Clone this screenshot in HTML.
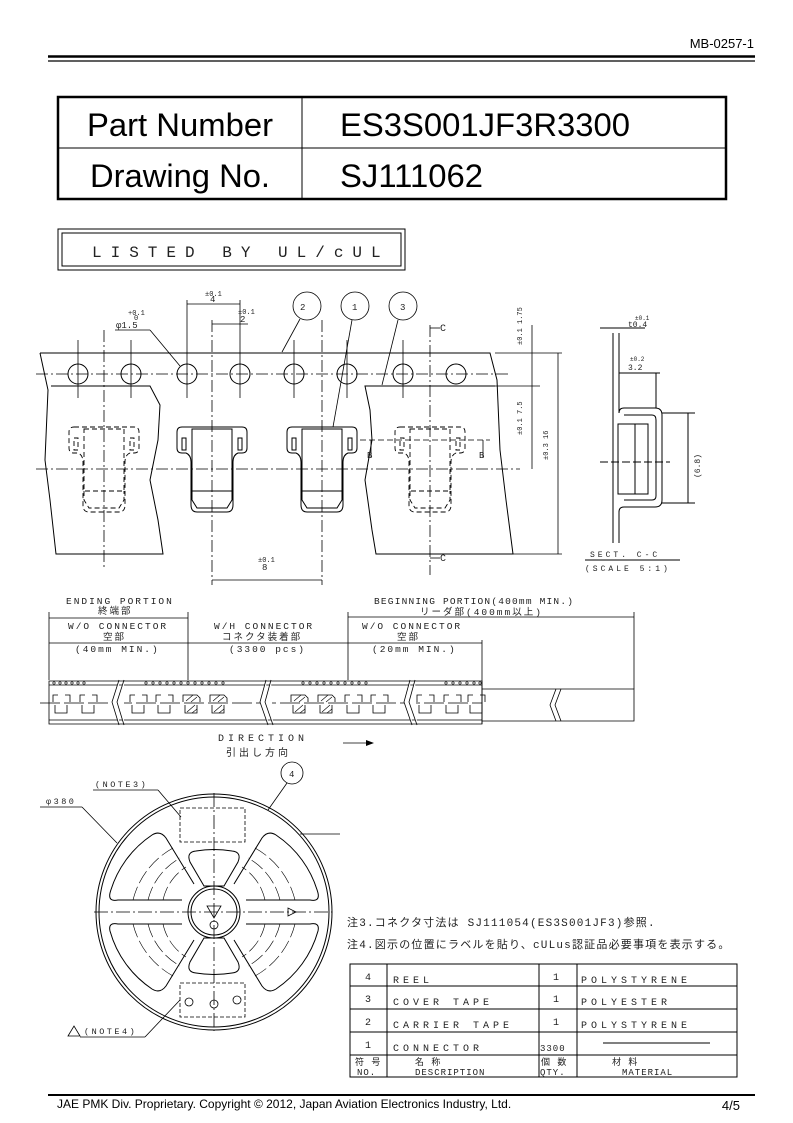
<!DOCTYPE html>
<html><head><meta charset="utf-8"><style>
html,body{margin:0;padding:0;background:#fff}
svg{display:block}
.s{font-family:"Liberation Sans","Noto Sans CJK JP",sans-serif}
.m{font-family:"Liberation Mono","Noto Sans CJK JP",monospace;fill:#222}
</style></head><body>
<svg width="793" height="1123" viewBox="0 0 793 1123" xmlns="http://www.w3.org/2000/svg" fill="none" stroke="#000">
<!-- header -->
<text class="s" x="754" y="48" font-size="13" fill="#000" stroke="none" text-anchor="end">MB-0257-1</text>
<line x1="48" y1="56.5" x2="755" y2="56.5" stroke-width="2.5"/>
<line x1="48" y1="61" x2="755" y2="61" stroke-width="1.2"/>
<rect x="58" y="97" width="668" height="102" stroke-width="2.5"/>
<line x1="58" y1="148" x2="726" y2="148" stroke-width="1"/>
<line x1="302" y1="97" x2="302" y2="199" stroke-width="1"/>
<g class="s" font-size="32" fill="#000" stroke="none">
<text x="87" y="136" textLength="186" lengthAdjust="spacingAndGlyphs">Part Number</text>
<text x="90" y="187" textLength="180" lengthAdjust="spacingAndGlyphs">Drawing No.</text>
<text x="340" y="136" textLength="290" lengthAdjust="spacingAndGlyphs">ES3S001JF3R3300</text>
<text x="340" y="187" textLength="143" lengthAdjust="spacingAndGlyphs">SJ111062</text>
</g>
<rect x="58" y="229" width="347" height="41" stroke-width="1"/>
<rect x="62" y="233" width="339" height="33" stroke-width="1"/>
<text class="m" x="92" y="257" font-size="16" letter-spacing="9" stroke="none" fill="#222">LISTED BY UL/cUL</text>

<!-- carrier tape view -->
<g stroke-width="1">
<path d="M40 353 L490 353 L497 380 L500 450 L506 500 L513 554 L376 554 L372 530 L365 480 L372 440 L370 410 L365 386 L495 386"/>
<path d="M40 353 L48 390 L45 460 L50 500 L56 554 L163 554 L158 520 L150 480 L158 440 L160 405 L150 386 L51 386"/>
</g>
<g stroke-width="1">
<circle cx="78" cy="374" r="10"/><circle cx="131" cy="374" r="10"/><circle cx="187" cy="374" r="10"/><circle cx="240" cy="374" r="10"/>
<circle cx="294" cy="374" r="10"/><circle cx="347" cy="374" r="10"/><circle cx="403" cy="374" r="10"/><circle cx="456" cy="374" r="10"/>
</g>
<g stroke-width="0.8">
<line x1="78" y1="340" x2="78" y2="398"/><line x1="131" y1="340" x2="131" y2="398"/><line x1="187" y1="300" x2="187" y2="398"/><line x1="240" y1="300" x2="240" y2="398"/>
<line x1="294" y1="340" x2="294" y2="398"/><line x1="347" y1="340" x2="347" y2="398"/><line x1="403" y1="340" x2="403" y2="398"/>
</g>
<g stroke-width="0.8" stroke-dasharray="12 3 2 3">
<line x1="36" y1="374" x2="508" y2="374"/>
<line x1="36" y1="469" x2="520" y2="469"/>
<line x1="104" y1="330" x2="104" y2="570"/>
<line x1="212" y1="320" x2="212" y2="585"/>
<line x1="322" y1="320" x2="322" y2="585"/>
<line x1="430" y1="325" x2="430" y2="575"/>
</g>
<defs>
<g id="pk">
<path d="M-30 427 H30 Q35 427 35 432 V448 Q35 453 30 453 H26 Q21 455 21 462 V505 Q21 512 15 512 H-15 Q-21 512 -21 505 V462 Q-21 455 -26 453 H-30 Q-35 453 -35 448 V432 Q-35 427 -30 427 Z"/>
<rect x="-20" y="429" width="40" height="62"/>
<path d="M-20 491 V500 L-15 508 H15 L20 500 V491"/>
<rect x="-30" y="438" width="4" height="12"/><rect x="26" y="438" width="4" height="12"/>
</g>
<g id="mp"><path d="M0 702v-7h5 M12 695h5v7 M2 705v8h12v-8"/></g>
<g id="hp"><path d="M0 702v-7h14l3 3v4 M2 705v8h12v-8"/><path d="M3 701l7-6 M8 702l6-5 M4 712l8-7 M9 713l5-4" stroke-width="0.6"/></g>
</defs>
<g stroke-width="1"><use href="#pk" x="212"/><use href="#pk" x="322"/></g>
<g stroke-width="0.9" stroke-dasharray="5 3"><use href="#pk" x="104"/><use href="#pk" x="430"/></g>
<g stroke-width="0.8">
<line x1="187" y1="304" x2="240" y2="304"/><line x1="212" y1="324" x2="248" y2="324"/>
<line x1="212" y1="580" x2="322" y2="580"/>
<line x1="115" y1="330" x2="150" y2="330"/><line x1="150" y1="330" x2="180" y2="366"/>
<line x1="495" y1="353" x2="562" y2="353"/><line x1="495" y1="386" x2="540" y2="386"/><line x1="513" y1="554" x2="562" y2="554"/>
<line x1="532" y1="325" x2="532" y2="469"/><line x1="558" y1="353" x2="558" y2="554"/>
<line x1="430" y1="328" x2="440" y2="328"/><line x1="430" y1="558" x2="440" y2="558"/>
<line x1="371" y1="440" x2="371" y2="458"/><line x1="483" y1="440" x2="483" y2="458"/>
<line x1="360" y1="440" x2="490" y2="440" stroke-dasharray="6 3"/>
<circle cx="307" cy="306" r="14"/><circle cx="355" cy="306" r="14"/><circle cx="403" cy="306" r="14"/>
<line x1="300" y1="319" x2="282" y2="352"/><line x1="352" y1="320" x2="333" y2="427"/><line x1="398" y1="320" x2="382" y2="385"/>
</g>
<g class="m" font-size="7" stroke="none" fill="#222">
<text x="205" y="296">±0.1</text><text x="210" y="302" font-size="9">4</text>
<text x="238" y="314">±0.1</text><text x="240" y="322" font-size="9">2</text>
<text x="128" y="315">+0.1</text><text x="134" y="320">0</text><text x="116" y="328" font-size="9">φ1.5</text>
<text x="258" y="562">±0.1</text><text x="262" y="570" font-size="9">8</text>
<text x="440" y="331" font-size="10">C</text><text x="440" y="561" font-size="10">C</text>
<text x="367" y="458" font-size="9">B</text><text x="479" y="458" font-size="9">B</text>
<text x="300" y="310" font-size="9">2</text><text x="352" y="310" font-size="9">1</text><text x="400" y="310" font-size="9">3</text>
<text transform="translate(522 345) rotate(-90)">±0.1 1.75</text>
<text transform="translate(522 435) rotate(-90)">±0.1 7.5</text>
<text transform="translate(548 460) rotate(-90)">±0.3 16</text>
</g>
<!-- section C-C -->
<g stroke-width="1">
<path d="M613 333 V543 M619 333 V413 Q619 408 624 408 H655 Q662 408 662 415 V500 Q662 507 655 507 H624 Q619 507 619 512 V543"/>
<path d="M624 415 H652 Q656 415 656 420 V496 Q656 500 652 500 H624"/>
<rect x="618" y="424" width="30" height="70"/><line x1="635" y1="424" x2="635" y2="494"/>
<line x1="600" y1="462" x2="670" y2="462" stroke-dasharray="8 3"/>
<line x1="600" y1="328" x2="645" y2="328"/><line x1="619" y1="373" x2="660" y2="373"/><line x1="656" y1="373" x2="656" y2="408"/>
<line x1="662" y1="413" x2="695" y2="413"/><line x1="662" y1="503" x2="695" y2="503"/><line x1="688" y1="413" x2="688" y2="503"/>
<line x1="585" y1="560" x2="680" y2="560"/>
</g>
<g class="m" font-size="8" stroke="none" fill="#222">
<text x="635" y="320" font-size="6">±0.1</text><text x="628" y="327">t0.4</text>
<text x="630" y="361" font-size="6">±0.2</text><text x="628" y="370">3.2</text>
<text transform="translate(700 478) rotate(-90)">(6.8)</text>
<text x="590" y="557" letter-spacing="3">SECT. C-C</text>
<text x="585" y="571" letter-spacing="3">(SCALE 5:1)</text>
</g>
<!-- belt -->
<g stroke-width="0.8">
<line x1="49" y1="612" x2="49" y2="680"/><line x1="188" y1="612" x2="188" y2="680"/><line x1="348" y1="612" x2="348" y2="680"/><line x1="482" y1="640" x2="482" y2="724"/><line x1="634" y1="612" x2="634" y2="689"/>
<line x1="49" y1="618" x2="188" y2="618"/><line x1="348" y1="617" x2="634" y2="617"/>
<line x1="49" y1="643" x2="482" y2="643"/>
<path d="M49 681 H482 V724 H49 Z"/><line x1="49" y1="685" x2="482" y2="685"/><line x1="49" y1="720" x2="482" y2="720"/>
<path d="M482 689 H634 V721 H482"/>
<line x1="40" y1="703" x2="482" y2="703" stroke-dasharray="20 4"/>
<path d="M119 680 L112 702 L119 725 M124 680 L117 702 L124 725" fill="#fff"/>
<path d="M266 680 L260 702 L268 725 M271 680 L265 702 L273 725" fill="#fff"/>
<path d="M410 680 L404 702 L412 725 M415 680 L409 702 L417 725" fill="#fff"/>
<path d="M556 689 L550 705 L556 721 M561 689 L555 705 L561 721" fill="#fff"/>
<line x1="343" y1="743" x2="372" y2="743"/>
</g>
<g stroke-width="0.8">
<use href="#mp" x="53"/><use href="#mp" x="80"/><use href="#mp" x="130"/><use href="#mp" x="156"/>
<use href="#hp" x="183"/><use href="#hp" x="210"/><use href="#hp" x="291"/><use href="#hp" x="318"/>
<use href="#mp" x="345"/><use href="#mp" x="371"/><use href="#mp" x="417"/><use href="#mp" x="444"/><use href="#mp" x="468"/>
</g>
<g fill="#fff" stroke-width="0.6">
<circle cx="54" cy="683" r="1.2"/><circle cx="60" cy="683" r="1.2"/><circle cx="66" cy="683" r="1.2"/><circle cx="72" cy="683" r="1.2"/><circle cx="78" cy="683" r="1.2"/><circle cx="84" cy="683" r="1.2"/>
<circle cx="146" cy="683" r="1.2"/><circle cx="153" cy="683" r="1.2"/><circle cx="160" cy="683" r="1.2"/><circle cx="167" cy="683" r="1.2"/><circle cx="174" cy="683" r="1.2"/><circle cx="181" cy="683" r="1.2"/><circle cx="188" cy="683" r="1.2"/><circle cx="195" cy="683" r="1.2"/><circle cx="202" cy="683" r="1.2"/><circle cx="209" cy="683" r="1.2"/><circle cx="216" cy="683" r="1.2"/><circle cx="223" cy="683" r="1.2"/>
<circle cx="303" cy="683" r="1.2"/><circle cx="310" cy="683" r="1.2"/><circle cx="317" cy="683" r="1.2"/><circle cx="324" cy="683" r="1.2"/><circle cx="331" cy="683" r="1.2"/><circle cx="338" cy="683" r="1.2"/><circle cx="345" cy="683" r="1.2"/><circle cx="352" cy="683" r="1.2"/><circle cx="359" cy="683" r="1.2"/><circle cx="366" cy="683" r="1.2"/>
<circle cx="446" cy="683" r="1.2"/><circle cx="453" cy="683" r="1.2"/><circle cx="460" cy="683" r="1.2"/><circle cx="467" cy="683" r="1.2"/><circle cx="474" cy="683" r="1.2"/><circle cx="480" cy="683" r="1.2"/>
</g>
<g class="m" font-size="9.5" stroke="none" fill="#222" letter-spacing="2">
<text x="66" y="604">ENDING PORTION</text><text x="98" y="614">終端部</text>
<text x="68" y="629">W/O CONNECTOR</text><text x="103" y="640">空部</text><text x="75" y="652">(40mm MIN.)</text>
<text x="214" y="629">W/H CONNECTOR</text><text x="222" y="640">コネクタ装着部</text><text x="229" y="652">(3300 pcs)</text>
<text x="374" y="604" letter-spacing="1.2">BEGINNING PORTION(400mm MIN.)</text><text x="420" y="615">リーダ部(400mm以上)</text>
<text x="362" y="629">W/O CONNECTOR</text><text x="397" y="640">空部</text><text x="372" y="652">(20mm MIN.)</text>
<text x="218" y="741" font-size="10" letter-spacing="4">DIRECTION</text><text x="226" y="756" font-size="10" letter-spacing="3">引出し方向</text>
</g>
<path d="M366 740 L374 743 L366 746 Z" fill="#000" stroke="none"/>
<!-- reel -->
<g stroke-width="1">
<circle cx="214" cy="912" r="118"/><circle cx="214" cy="912" r="115"/>
<circle cx="214" cy="912" r="26"/><circle cx="214" cy="912" r="23"/>
<path d="M246 900 L310 900 Q320 902 318 893 A103 103 0 0 0 276 835 Q268 830 262 838 L234 884"/>
<path d="M182 900 L118 900 Q108 902 110 893 A103 103 0 0 1 152 835 Q160 830 166 838 L194 884"/>
<path d="M246 924 L310 924 Q320 922 318 931 A103 103 0 0 1 276 989 Q268 994 262 986 L234 940"/>
<path d="M182 924 L118 924 Q108 922 110 931 A103 103 0 0 0 152 989 Q160 994 166 986 L194 940"/>
<path d="M204 886 L190 862 Q186 852 196 851 Q214 848 232 851 Q242 852 238 862 L224 886 Z"/>
<path d="M204 938 L190 962 Q186 972 196 973 Q214 976 232 973 Q242 972 238 962 L224 938 Z"/>
</g>
<g stroke-width="0.6" stroke-dasharray="14 4">
<path d="M295 900 A82 82 0 0 0 255 848"/><path d="M280 900 A66 66 0 0 0 248 858"/><path d="M265 900 A52 52 0 0 0 242 867"/>
<path d="M133 900 A82 82 0 0 1 173 848"/><path d="M148 900 A66 66 0 0 1 180 858"/><path d="M163 900 A52 52 0 0 1 186 867"/>
<path d="M295 924 A82 82 0 0 1 255 976"/><path d="M280 924 A66 66 0 0 1 248 966"/><path d="M265 924 A52 52 0 0 1 242 957"/>
<path d="M133 924 A82 82 0 0 0 173 976"/><path d="M148 924 A66 66 0 0 0 180 966"/><path d="M163 924 A52 52 0 0 0 186 957"/>
</g>
<g stroke-width="0.8">
<line x1="94" y1="912" x2="332" y2="912" stroke-dasharray="14 3 2 3"/>
<line x1="214" y1="793" x2="214" y2="1031" stroke-dasharray="14 3 2 3"/>
<rect x="180" y="808" width="65" height="34" stroke-dasharray="4 2"/>
<rect x="180" y="983" width="65" height="34" stroke-dasharray="4 2"/>
<circle cx="214" cy="925" r="4"/><circle cx="214" cy="1004" r="4"/><circle cx="189" cy="1002" r="4"/><circle cx="237" cy="1000" r="4"/>
<path d="M207 906 L221 906 L214 918 Z"/>
<path d="M296 912 L288 908 L288 916 Z"/>
<line x1="40" y1="807" x2="82" y2="807"/><line x1="82" y1="807" x2="117" y2="843"/>
<line x1="93" y1="790" x2="158" y2="790"/><line x1="158" y1="790" x2="181" y2="817"/>
<circle cx="292" cy="773" r="11"/><line x1="287" y1="783" x2="268" y2="810"/>
<line x1="80" y1="1037" x2="145" y2="1037"/><line x1="145" y1="1037" x2="180" y2="1000"/>
<path d="M68 1036 L74 1026 L80 1036 Z"/>
<line x1="300" y1="834" x2="340" y2="834"/>
</g>
<g class="m" font-size="8.5" stroke="none" fill="#222" letter-spacing="2.5">
<text x="95" y="787">(NOTE3)</text><text x="46" y="804">φ380</text><text x="289" y="777" font-size="9">4</text>
<text x="84" y="1034">(NOTE4)</text>
</g>
<!-- notes & table -->
<g class="m" font-size="11" stroke="none" fill="#222" letter-spacing="1.2">
<text x="347" y="926">注3.コネクタ寸法は SJ111054(ES3S001JF3)参照.</text>
<text x="347" y="948">注4.図示の位置にラベルを貼り、cULus認証品必要事項を表示する。</text>
</g>
<g stroke-width="1">
<rect x="350" y="964" width="387" height="113"/>
<line x1="350" y1="986" x2="737" y2="986"/><line x1="350" y1="1009" x2="737" y2="1009"/><line x1="350" y1="1032" x2="737" y2="1032"/><line x1="350" y1="1055" x2="737" y2="1055"/>
<line x1="387" y1="964" x2="387" y2="1077"/><line x1="539" y1="964" x2="539" y2="1077"/><line x1="577" y1="964" x2="577" y2="1077"/>
<line x1="603" y1="1043" x2="710" y2="1043"/>
</g>
<g class="m" font-size="10" stroke="none" fill="#222" letter-spacing="4">
<text x="365" y="980">4</text><text x="365" y="1002">3</text><text x="365" y="1025">2</text><text x="365" y="1048">1</text>
<text x="393" y="983">REEL</text><text x="393" y="1005">COVER TAPE</text><text x="393" y="1028">CARRIER TAPE</text><text x="393" y="1051">CONNECTOR</text>
<text x="553" y="980">1</text><text x="553" y="1002">1</text><text x="553" y="1025">1</text><text x="540" y="1051" letter-spacing="1" font-size="9">3300</text>
<text x="581" y="983">POLYSTYRENE</text><text x="581" y="1005">POLYESTER</text><text x="581" y="1028">POLYSTYRENE</text>
</g>
<g class="m" font-size="9" stroke="none" fill="#222" letter-spacing="1">
<text x="355" y="1065">符 号</text><text x="357" y="1075">NO.</text>
<text x="415" y="1065">名          称</text><text x="415" y="1075">DESCRIPTION</text>
<text x="541" y="1065">個 数</text><text x="540" y="1075">QTY.</text>
<text x="612" y="1065">材        料</text><text x="622" y="1075">MATERIAL</text>
</g>
<!-- footer -->
<line x1="48" y1="1095" x2="755" y2="1095" stroke-width="2"/>
<text class="s" x="57" y="1108" font-size="12" fill="#000" stroke="none">JAE PMK Div. Proprietary. Copyright ©  2012, Japan Aviation Electronics Industry, Ltd.</text>
<text class="s" x="740" y="1110" font-size="13" fill="#000" stroke="none" text-anchor="end">4/5</text>
</svg>
</body></html>
